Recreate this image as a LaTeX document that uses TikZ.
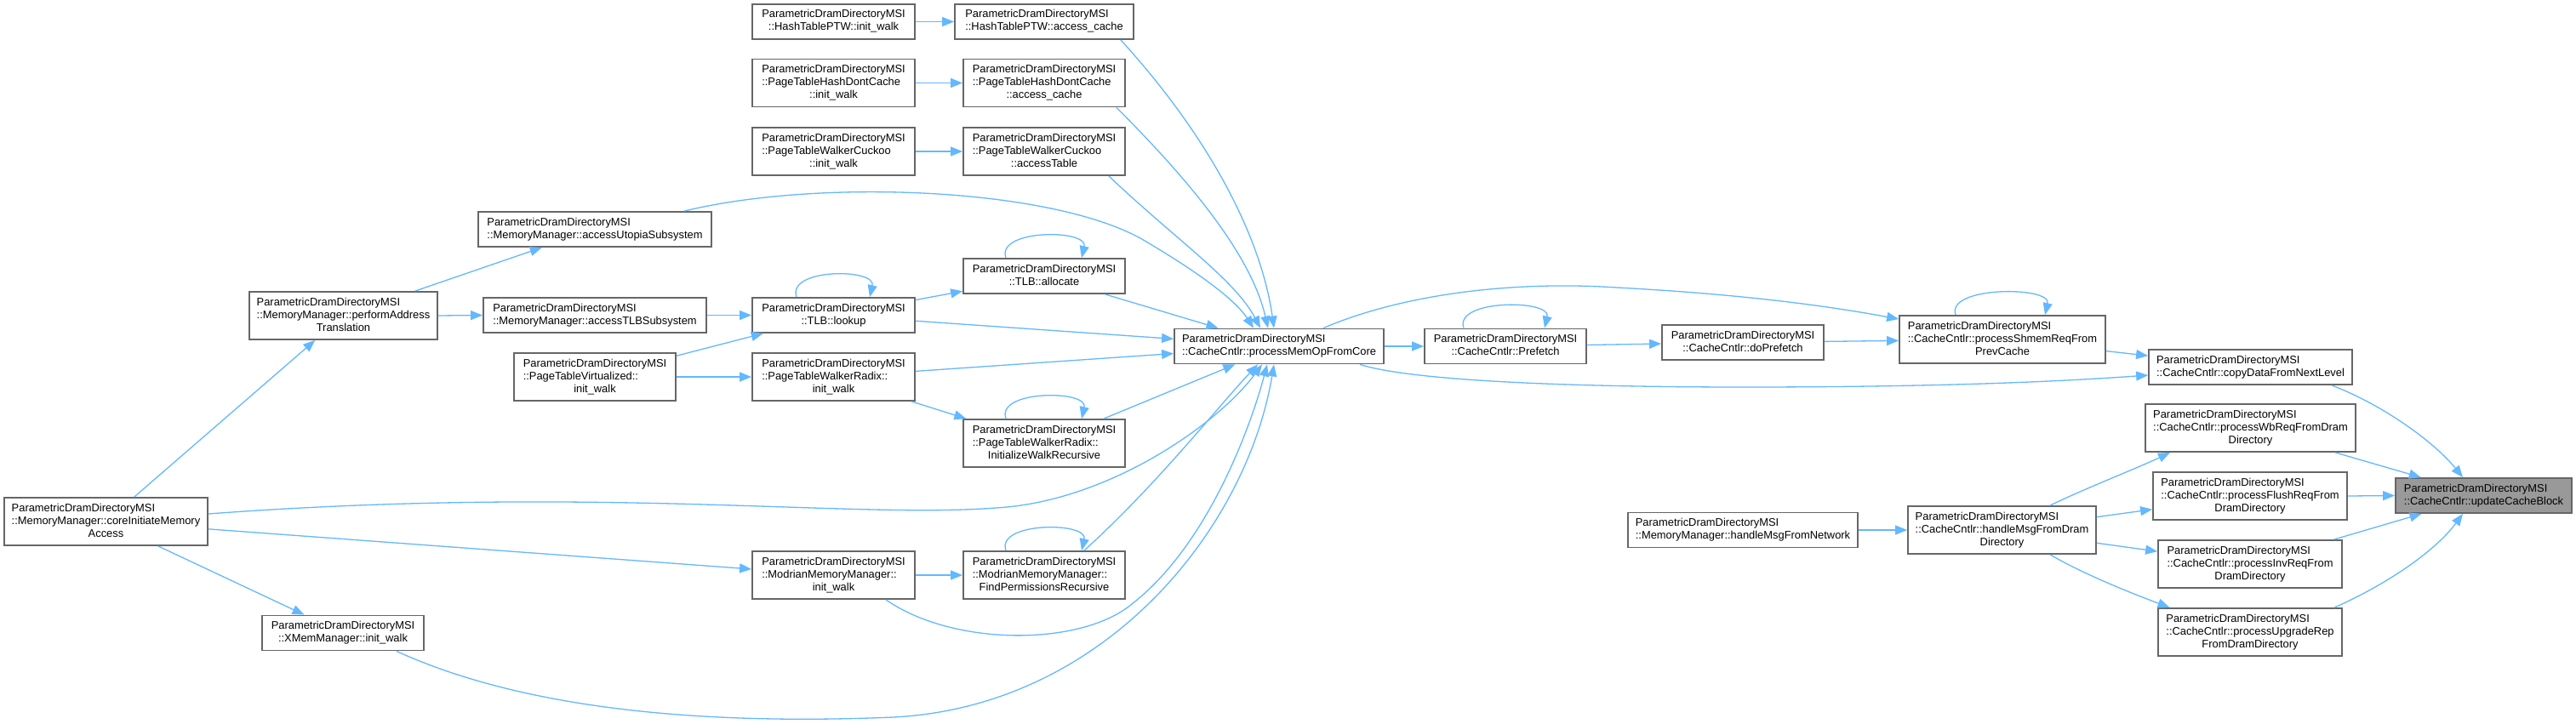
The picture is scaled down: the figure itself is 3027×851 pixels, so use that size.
\documentclass[tikz,border=0pt]{standalone}
\usepackage{fontspec}
\setmainfont{Liberation Sans}
\usetikzlibrary{arrows.meta}
\definecolor{edgeblue}{HTML}{63B8FF}
\definecolor{boxgray}{HTML}{666666}
\definecolor{hlfill}{HTML}{999999}
\newcommand{\nodefont}{\fontsize{12.9pt}{15pt}\selectfont}
\newcommand{\ltwo}[2]{\begin{tabular}{@{}l@{}}#1\\\multicolumn{1}{@{}c@{}}{#2}\end{tabular}}
\newcommand{\lthree}[3]{\begin{tabular}{@{}l@{}}#1\\#2\\\multicolumn{1}{@{}c@{}}{#3}\end{tabular}}
\newcommand{\PD}{ParametricDramDirectoryMSI}
\begin{document}
\begin{tikzpicture}[x=1pt,y=-1pt,
  box/.style={draw=boxgray, line width=1.8pt, fill=white, inner sep=0pt, font=\nodefont, align=center},
  hl/.style={box, fill=hlfill},
  edge/.style={draw=edgeblue, line width=1.3pt, -{Triangle[length=14pt,width=11pt]}}]
\useasboundingbox[fill=white] (0,0) rectangle (3027,851);

% nodes
\node[box, minimum width=191pt, minimum height=41pt] (htinit) at (979.5,25.5) {\ltwo{\PD}{::HashTablePTW::init\_walk}};
\node[box, minimum width=210pt, minimum height=41pt] (htacc) at (1227,25.5) {\ltwo{\PD}{::HashTablePTW::access\_cache}};
\node[box, minimum width=191pt, minimum height=56pt] (phinit) at (979.5,97.5) {\lthree{\PD}{::PageTableHashDontCache}{::init\_walk}};
\node[box, minimum width=190pt, minimum height=56pt] (phacc) at (1227,97.5) {\lthree{\PD}{::PageTableHashDontCache}{::access\_cache}};
\node[box, minimum width=191pt, minimum height=56pt] (ckinit) at (979.5,178) {\lthree{\PD}{::PageTableWalkerCuckoo}{::init\_walk}};
\node[box, minimum width=190pt, minimum height=56pt] (ckacc) at (1227,178) {\lthree{\PD}{::PageTableWalkerCuckoo}{::accessTable}};
\node[box, minimum width=274pt, minimum height=41pt] (utopia) at (699,269.5) {\ltwo{\PD}{::MemoryManager::accessUtopiaSubsystem}};
\node[box, minimum width=221pt, minimum height=56pt] (perf) at (403.5,371) {\lthree{\PD}{::MemoryManager::performAddress}{Translation}};
\node[box, minimum width=262pt, minimum height=41pt] (tlbsub) at (699,370.5) {\ltwo{\PD}{::MemoryManager::accessTLBSubsystem}};
\node[box, minimum width=191pt, minimum height=41pt] (lookup) at (979.5,370.5) {\ltwo{\PD}{::TLB::lookup}};
\node[box, minimum width=190pt, minimum height=41pt] (alloc) at (1227,324.5) {\ltwo{\PD}{::TLB::allocate}};
\node[box, minimum width=190pt, minimum height=56pt] (virt) at (699,443) {\lthree{\PD}{::PageTableVirtualized::}{init\_walk}};
\node[box, minimum width=191pt, minimum height=56pt] (radix) at (979.5,443) {\lthree{\PD}{::PageTableWalkerRadix::}{init\_walk}};
\node[box, minimum width=190pt, minimum height=56pt] (initrec) at (1227,521) {\lthree{\PD}{::PageTableWalkerRadix::}{InitializeWalkRecursive}};
\node[box, minimum width=239pt, minimum height=56pt] (core) at (124.5,613) {\lthree{\PD}{::MemoryManager::coreInitiateMemory}{Access}};
\node[box, minimum width=191pt, minimum height=56pt] (modinit) at (979.5,676) {\lthree{\PD}{::ModrianMemoryManager::}{init\_walk}};
\node[box, minimum width=190pt, minimum height=56pt] (findperm) at (1227,676) {\lthree{\PD}{::ModrianMemoryManager::}{FindPermissionsRecursive}};
\node[box, minimum width=190pt, minimum height=41pt] (xmem) at (403,744) {\ltwo{\PD}{::XMemManager::init\_walk}};
\node[box, minimum width=246pt, minimum height=41pt] (pmoc) at (1503,407) {\ltwo{\PD}{::CacheCntlr::processMemOpFromCore}};
\node[box, minimum width=190pt, minimum height=41pt] (prefetch) at (1769,407) {\ltwo{\PD}{::CacheCntlr::Prefetch}};
\node[box, minimum width=190pt, minimum height=41pt] (dopref) at (2048,402.5) {\ltwo{\PD}{::CacheCntlr::doPrefetch}};
\node[box, minimum width=242pt, minimum height=56pt] (shmem) at (2353,399) {\lthree{\PD}{::CacheCntlr::processShmemReqFrom}{PrevCache}};
\node[box, minimum width=239pt, minimum height=41pt] (copy) at (2644.5,431.5) {\ltwo{\PD}{::CacheCntlr::copyDataFromNextLevel}};
\node[box, minimum width=247pt, minimum height=56pt] (wb) at (2644.5,503) {\lthree{\PD}{::CacheCntlr::processWbReqFromDram}{Directory}};
\node[box, minimum width=228pt, minimum height=56pt] (flush) at (2644,583) {\lthree{\PD}{::CacheCntlr::processFlushReqFrom}{DramDirectory}};
\node[box, minimum width=216pt, minimum height=56pt] (inv) at (2644,663) {\lthree{\PD}{::CacheCntlr::processInvReqFrom}{DramDirectory}};
\node[box, minimum width=216pt, minimum height=56pt] (upg) at (2644,743) {\lthree{\PD}{::CacheCntlr::processUpgradeRep}{FromDramDirectory}};
\node[box, minimum width=270pt, minimum height=41pt] (hnet) at (2048,623) {\ltwo{\PD}{::MemoryManager::handleMsgFromNetwork}};
\node[box, minimum width=221pt, minimum height=56pt] (hdram) at (2352.5,623) {\lthree{\PD}{::CacheCntlr::handleMsgFromDram}{Directory}};
\node[hl, minimum width=207pt, minimum height=41pt] (update) at (2918.5,582.5) {\ltwo{\PD}{::CacheCntlr::updateCacheBlock}};

% straight edges
\draw[edge] (htinit.east) -- (htacc.west);
\draw[edge] (phinit.east) -- (phacc.west);
\draw[edge] (ckinit.east) -- (ckacc.west);
\draw[edge] (perf) -- (utopia);
\draw[edge] (perf.east) -- (tlbsub.west);
\draw[edge] (tlbsub.east) -- (lookup.west);
\draw[edge] (lookup) -- (alloc);
\draw[edge] (alloc) -- (pmoc);
\draw[edge] (lookup) -- (pmoc);
\draw[edge] (virt) -- (lookup);
\draw[edge] (virt.east) -- (radix.west);
\draw[edge] (radix) -- (pmoc);
\draw[edge] (radix) -- (initrec);
\draw[edge] (initrec) -- (pmoc);
\draw[edge] (core) -- (perf);
\draw[edge] (core) -- (modinit);
\draw[edge] (core) -- (xmem);
\draw[edge] (modinit.east) -- (findperm.west);
\draw[edge] (pmoc.east) -- (prefetch.west);
\draw[edge] (prefetch) -- (dopref);
\draw[edge] (dopref) -- (shmem);
\draw[edge] (shmem) -- (copy);
\draw[edge] (wb) -- (update);
\draw[edge] (flush.east) -- (update.west);
\draw[edge] (inv) -- (update);
\draw[edge] (hnet.east) -- (hdram.west);
\draw[edge] (hdram) -- (flush);
\draw[edge] (hdram) -- (inv);

% curved edges into processMemOpFromCore (top)
\draw[edge] ([xshift=-16pt]htacc.south east) .. controls +(104,114) and +(-15,-107) .. ([xshift=-6pt]pmoc.north);
\draw[edge] ([xshift=-11pt]phacc.south east) .. controls +(84,84) and +(-20,-87) .. ([xshift=-13pt]pmoc.north);
\draw[edge] ([xshift=-20pt]ckacc.south east) .. controls +(78,74) and +(-30,-57) .. ([xshift=-22pt]pmoc.north);
\draw[edge] ([xshift=105pt]utopia.north) .. controls (960,210) and (1230,220) .. (1340,280) .. controls (1400,315) and (1450,350) .. ([xshift=-30pt]pmoc.north);

% curved edges into processMemOpFromCore (bottom)
\draw[edge] ([yshift=9pt]core.east) .. controls (700,570) and (1000,610) .. (1170,597) .. controls (1300,590) and (1430,500) .. ([xshift=-20pt]pmoc.south);
\draw[edge] ([xshift=47pt]findperm.north) .. controls +(86,-78) and +(-48,51) .. ([xshift=-25pt]pmoc.south);
\draw[edge] ([xshift=61.5pt]modinit.south) .. controls (1120,760) and (1270,760) .. (1330,710) .. controls (1420,640) and (1470,500) .. ([xshift=-14pt]pmoc.south);
\draw[edge] ([xshift=63pt]xmem.south) .. controls (640,845) and (880,850) .. (1050,843) .. controls (1300,830) and (1465,620) .. ([xshift=-6pt]pmoc.south);

% edges from processMemOpFromCore to the right
\draw[edge] ([xshift=52pt]pmoc.north) .. controls (1650,345) and (1780,330) .. (1900,338) .. controls (2050,346) and (2150,360) .. ([yshift=24pt]shmem.west);
\draw[edge] ([xshift=95pt]pmoc.south) .. controls (1660,448) and (1850,455) .. (2050,455) .. controls (2250,455) and (2400,450) .. ([yshift=-9.5pt]copy.west);

% right side curves
\draw[edge] ([xshift=95.5pt]copy.south) .. controls +(60,23) and +(-34,-42) .. ([xshift=-24.5pt]update.north);
\draw[edge] ([xshift=99pt]upg.north) .. controls +(57,-25) and +(-34,46) .. ([xshift=-24.5pt]update.south);
\draw[edge] ([xshift=56.5pt]hdram.north) .. controls +(41,-20) and +(-40,19) .. ([xshift=-94.5pt]wb.south);
\draw[edge] ([xshift=56.5pt]hdram.south) .. controls +(41,24) and +(-40,-15) .. ([xshift=-94.5pt]upg.north);

% self loops
\draw[edge] ([xshift=-43.5pt]lookup.north) .. controls +(-12,-34) and +(8,-34) .. ([xshift=42.5pt]lookup.north);
\draw[edge] ([xshift=-45pt]alloc.north) .. controls +(-12,-34) and +(8,-34) .. ([xshift=44pt]alloc.north);
\draw[edge] ([xshift=-45pt]initrec.north) .. controls +(-12,-34) and +(8,-34) .. ([xshift=44pt]initrec.north);
\draw[edge] ([xshift=-45pt]findperm.north) .. controls +(-12,-34) and +(8,-34) .. ([xshift=44pt]findperm.north);
\draw[edge] ([xshift=-49pt]prefetch.north) .. controls +(-12,-34) and +(8,-34) .. ([xshift=46pt]prefetch.north);
\draw[edge] ([xshift=-55pt]shmem.north) .. controls +(-12,-34) and +(8,-34) .. ([xshift=50pt]shmem.north);
\end{tikzpicture}
\end{document}
